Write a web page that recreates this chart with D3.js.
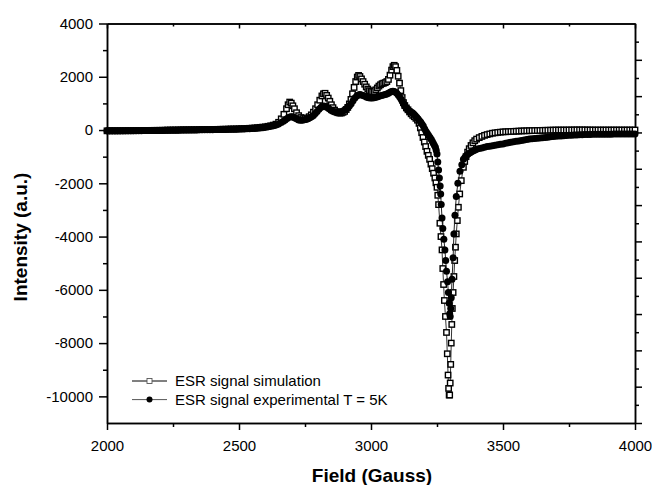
<!DOCTYPE html>
<html>
<head>
<meta charset="utf-8">
<script src="https://cdn.jsdelivr.net/npm/d3@7"></script>
<style>
	body { margin: 0; background: #fff; }
	svg text { font-family: "Liberation Sans", Arial, sans-serif; }
</style>
</head>
<body>
<div class="graph"></div>
<script>
// ESR spectra, [field (G), intensity (a.u.)]
const simulation = [
	[2000,-30],[2010,-30],[2020,-30],[2030,-30],[2040,-30],[2050,-28],[2060,-28],[2070,-26],[2080,-25],[2090,-25],
	[2100,-24],[2110,-22],[2120,-20],[2130,-19],[2140,-18],[2150,-16],[2160,-15],[2170,-13],[2180,-12],[2190,-11],
	[2200,-10],[2210,-8],[2220,-6],[2230,-3],[2240,0],[2250,1],[2260,2],[2270,4],[2280,5],[2290,7],
	[2300,8],[2310,9],[2320,10],[2330,11],[2340,12],[2350,14],[2360,15],[2370,17],[2380,18],[2390,19],
	[2400,20],[2410,22],[2420,25],[2430,28],[2440,30],[2450,32],[2460,35],[2470,38],[2480,40],[2490,42],
	[2500,45],[2510,50],[2520,55],[2530,60],[2540,65],[2550,72],[2560,80],[2570,90],[2580,100],[2590,110],
	[2600,120],[2610,140],[2620,160],[2630,185],[2640,220],[2650,290],[2660,420],[2670,590],[2680,800],[2686,950],
	[2692,1050],[2698,1010],[2704,910],[2710,800],[2718,650],[2726,540],[2734,470],[2742,430],[2750,435],[2758,455],
	[2766,500],[2774,570],[2782,670],[2790,800],[2798,950],[2806,1120],[2814,1280],[2820,1360],[2826,1380],[2832,1300],
	[2838,1200],[2844,1080],[2850,950],[2856,840],[2862,750],[2868,690],[2875,650],[2882,635],[2888,640],[2894,665],
	[2900,700],[2906,770],[2912,850],[2918,980],[2924,1150],[2930,1360],[2936,1600],[2942,1820],[2948,1990],[2953,2050],
	[2958,2010],[2964,1920],[2970,1820],[2976,1720],[2982,1620],[2988,1540],[2994,1480],[3000,1450],[3006,1440],[3012,1450],
	[3018,1510],[3024,1580],[3030,1650],[3036,1700],[3042,1740],[3048,1760],[3054,1780],[3060,1820],[3066,1900],[3072,2060],
	[3078,2250],[3083,2380],[3088,2430],[3093,2380],[3098,2240],[3103,2020],[3108,1760],[3113,1480],[3118,1220],[3123,1030],
	[3128,920],[3134,830],[3140,760],[3146,680],[3152,610],[3158,550],[3164,500],[3170,440],[3176,370],[3182,250],
	[3187,80],[3192,-100],[3197,-280],[3202,-450],[3207,-620],[3212,-800],[3217,-950],[3222,-1100],[3227,-1280],[3232,-1450],
	[3237,-1620],[3242,-1800],[3246,-1980],[3250,-2150],[3253,-2450],[3256,-2800],[3261,-3500],[3265,-4000],[3269,-4500],[3272,-5200],
	[3275,-5800],[3278,-6400],[3282,-7000],[3286,-7600],[3289,-8400],[3292,-9200],[3294,-9700],[3296,-9950],[3298,-9950],[3300,-9500],
	[3302,-8800],[3304,-8000],[3306,-7300],[3308,-6700],[3311,-6100],[3314,-5500],[3317,-4900],[3320,-4400],[3323,-3900],[3327,-3400],
	[3331,-2900],[3336,-2400],[3342,-1900],[3350,-1400],[3355,-1180],[3360,-1000],[3366,-830],[3372,-700],[3379,-580],[3386,-480],
	[3393,-400],[3400,-340],[3410,-285],[3420,-240],[3430,-200],[3440,-170],[3450,-145],[3460,-120],[3470,-105],[3480,-90],
	[3490,-80],[3500,-70],[3510,-65],[3520,-60],[3530,-55],[3540,-50],[3550,-45],[3560,-40],[3570,-35],[3580,-30],
	[3590,-28],[3600,-25],[3610,-22],[3620,-20],[3630,-17],[3640,-15],[3650,-12],[3660,-10],[3670,-8],[3680,-5],
	[3690,-3],[3700,0],[3710,0],[3720,0],[3730,0],[3740,0],[3750,2],[3760,2],[3770,4],[3780,5],
	[3790,5],[3800,5],[3810,4],[3820,3],[3830,2],[3840,0],[3850,0],[3860,0],[3870,0],[3880,0],
	[3890,0],[3900,0],[3910,0],[3920,0],[3930,0],[3940,0],[3950,0],[3960,0],[3970,0],[3980,0],[3990,0],[4000,0]
];

const experimental = [
	[2000,-30],[2010,-30],[2020,-30],[2030,-30],[2040,-30],[2050,-29],[2060,-28],[2070,-28],[2080,-27],[2090,-26],
	[2100,-25],[2110,-25],[2120,-24],[2130,-23],[2140,-22],[2150,-21],[2160,-20],[2170,-19],[2180,-18],[2190,-16],
	[2200,-15],[2210,-13],[2220,-12],[2230,-11],[2240,-10],[2250,-8],[2260,-6],[2270,-4],[2280,-3],[2290,-1],
	[2300,0],[2310,1],[2320,2],[2330,4],[2340,5],[2350,7],[2360,8],[2370,10],[2380,12],[2390,13],
	[2400,15],[2410,17],[2420,18],[2430,20],[2440,22],[2450,24],[2460,26],[2470,28],[2480,30],[2490,32],
	[2500,35],[2510,38],[2520,42],[2530,46],[2540,50],[2550,56],[2560,62],[2570,70],[2580,80],[2590,90],
	[2600,100],[2610,120],[2620,140],[2630,165],[2640,190],[2650,230],[2660,280],[2668,330],[2675,380],[2682,430],
	[2690,480],[2696,500],[2702,495],[2708,470],[2714,440],[2720,410],[2726,380],[2733,368],[2740,370],[2747,382],
	[2754,400],[2761,428],[2768,460],[2775,500],[2782,550],[2789,620],[2796,700],[2803,780],[2810,850],[2816,885],
	[2822,900],[2828,885],[2834,850],[2841,795],[2848,740],[2855,705],[2862,680],[2869,672],[2876,670],[2883,682],
	[2890,700],[2897,735],[2904,780],[2911,835],[2918,900],[2925,990],[2932,1100],[2939,1200],[2946,1280],[2952,1315],
	[2958,1330],[2964,1320],[2970,1300],[2977,1265],[2984,1230],[2991,1210],[2998,1200],[3005,1202],[3012,1210],[3019,1228],
	[3026,1250],[3033,1275],[3040,1300],[3047,1318],[3054,1330],[3060,1352],[3066,1380],[3072,1420],[3078,1450],[3083,1458],
	[3088,1450],[3093,1420],[3098,1380],[3103,1320],[3108,1250],[3113,1170],[3118,1080],[3123,990],[3128,900],[3133,835],
	[3138,780],[3143,735],[3148,700],[3153,670],[3158,640],[3163,595],[3168,540],[3173,480],[3178,420],[3183,360],
	[3188,300],[3193,225],[3198,150],[3203,50],[3208,-50],[3213,-125],[3218,-200],[3223,-275],[3228,-350],[3232,-425],
	[3236,-500],[3240,-575],[3244,-650],[3247,-760],[3250,-900],[3253,-1200],[3256,-1500],[3259,-1800],[3262,-2100],[3264,-2400],
	[3266,-2800],[3269,-3300],[3272,-3700],[3276,-4100],[3280,-4500],[3283,-4900],[3286,-5300],[3290,-5700],[3293,-6100],[3296,-6500],
	[3298,-6900],[3300,-7000],[3302,-6700],[3304,-6300],[3307,-5600],[3311,-4800],[3314,-3900],[3318,-3200],[3323,-2500],[3329,-2000],
	[3337,-1550],[3344,-1300],[3350,-1100],[3356,-1020],[3362,-950],[3368,-900],[3375,-850],[3381,-815],[3388,-780],[3394,-750],
	[3400,-720],[3410,-695],[3420,-670],[3430,-645],[3440,-620],[3450,-605],[3460,-590],[3470,-570],[3480,-550],[3490,-535],
	[3500,-520],[3510,-500],[3520,-480],[3530,-460],[3540,-440],[3550,-425],[3560,-410],[3570,-390],[3580,-370],[3590,-355],
	[3600,-340],[3610,-328],[3620,-315],[3630,-308],[3640,-300],[3650,-290],[3660,-280],[3670,-268],[3680,-255],[3690,-242],
	[3700,-230],[3710,-225],[3720,-220],[3730,-212],[3740,-205],[3750,-200],[3760,-195],[3770,-190],[3780,-185],[3790,-180],
	[3800,-175],[3810,-171],[3820,-168],[3830,-165],[3840,-162],[3850,-161],[3860,-160],[3870,-159],[3880,-158],[3890,-156],
	[3900,-155],[3910,-154],[3920,-152],[3930,-151],[3940,-150],[3950,-149],[3960,-148],[3970,-147],[3980,-146],[3990,-146],[4000,-145]
];

const xMajor = [2000, 2500, 3000, 3500, 4000];
const xMinor = [2250, 2750, 3250, 3750];
const yMajor = [-10000, -8000, -6000, -4000, -2000, 0, 2000, 4000];
const yMinor = [-9000, -7000, -5000, -3000, -1000, 1000, 3000];
// unlabeled right-hand axis has its own spacing
const rightMajor = [0, 1, 2, 3, 4, 5, 6, 7, 8, 9, 10];
const rightMinor = [0.5, 1.5, 2.5, 3.5, 4.5, 5.5, 6.5, 7.5, 8.5, 9.5, 10.5];

const legendLabels = ["ESR signal simulation", "ESR signal experimental T = 5K"];

const W = 652, H = 485;
const mLeft = 107, mRight = 635, mTop = 23.5, mBottom = 423;

const drawChart = function(){
	let svg = d3.select(".graph")
		.append("svg")
		.attr("width", W)
		.attr("height", H);

	let x = d3.scaleLinear().domain([2000, 4000]).range([mLeft, mRight]);
	let y = d3.scaleLinear().domain([-11000, 4000]).range([mBottom, mTop]);
	let yRight = d3.scaleLinear().domain([0, 11]).range([mBottom, mTop]);
	let plain = d => String(d);  // hyphen minus like the original

	// bottom axis
	svg.append("g")
		.attr("transform", "translate(0," + mBottom + ")")
		.call(d3.axisBottom(x).tickValues(xMajor).tickSize(7).tickPadding(10).tickSizeOuter(0).tickFormat(plain));
	svg.append("g")
		.attr("transform", "translate(0," + mBottom + ")")
		.call(d3.axisBottom(x).tickValues(xMinor).tickSize(4).tickSizeOuter(0).tickFormat(""));
	// top axis, ticks pointing in
	svg.append("g")
		.attr("transform", "translate(0," + mTop + ")")
		.call(d3.axisBottom(x).tickValues(xMajor).tickSize(5).tickSizeOuter(0).tickFormat(""));
	svg.append("g")
		.attr("transform", "translate(0," + mTop + ")")
		.call(d3.axisBottom(x).tickValues(xMinor).tickSize(3).tickSizeOuter(0).tickFormat(""));
	// left axis
	svg.append("g")
		.attr("transform", "translate(" + mLeft + ",0)")
		.call(d3.axisLeft(y).tickValues(yMajor).tickSize(8).tickPadding(6).tickSizeOuter(0).tickFormat(plain));
	svg.append("g")
		.attr("transform", "translate(" + mLeft + ",0)")
		.call(d3.axisLeft(y).tickValues(yMinor).tickSize(4).tickSizeOuter(0).tickFormat(""));
	// right axis
	svg.append("g")
		.attr("transform", "translate(" + mRight + ",0)")
		.call(d3.axisRight(yRight).tickValues(rightMajor).tickSize(7).tickSizeOuter(0).tickFormat(""));
	svg.append("g")
		.attr("transform", "translate(" + mRight + ",0)")
		.call(d3.axisRight(yRight).tickValues(rightMinor).tickSize(4).tickSizeOuter(0).tickFormat(""));

	svg.selectAll(".domain, .tick line").attr("stroke", "#000").attr("stroke-width", 1.5);
	svg.selectAll(".tick text").attr("font-size", "15px").attr("fill", "#000");

	// axis titles
	svg.append("text")
		.attr("x", (mLeft + mRight) / 2 + 1)
		.attr("y", 482)
		.attr("text-anchor", "middle")
		.attr("font-size", "19px")
		.attr("font-weight", "bold")
		.text("Field (Gauss)");
	svg.append("text")
		.attr("transform", "translate(27,237) rotate(-90)")
		.attr("text-anchor", "middle")
		.attr("font-size", "19px")
		.attr("font-weight", "bold")
		.text("Intensity (a.u.)");

	let line = d3.line()
		.x(d => x(d[0]))
		.y(d => y(d[1]));

	// simulation: hollow squares on a thin line
	svg.append("path")
		.attr("d", line(simulation))
		.attr("fill", "none")
		.attr("stroke", "#000")
		.attr("stroke-width", 0.8);
	svg.append("g").selectAll("rect")
		.data(simulation)
		.enter().append("rect")
		.attr("x", d => x(d[0]) - 2.7)
		.attr("y", d => y(d[1]) - 2.7)
		.attr("width", 5.4)
		.attr("height", 5.4)
		.attr("fill", "#fff")
		.attr("stroke", "#000")
		.attr("stroke-width", 1.4);

	// experimental: filled circles
	svg.append("path")
		.attr("d", line(experimental))
		.attr("fill", "none")
		.attr("stroke", "#222")
		.attr("stroke-width", 1);
	svg.append("g").selectAll("circle")
		.data(experimental)
		.enter().append("circle")
		.attr("cx", d => x(d[0]))
		.attr("cy", d => y(d[1]))
		.attr("r", 3.5)
		.attr("fill", "#000");

	// legend
	let legend = svg.append("g").attr("transform", "translate(132,381)");
	legendLabels.forEach(function(label, i){
		let row = legend.append("g").attr("transform", "translate(0," + (i * 18.6) + ")");
		row.append("line")
			.attr("x1", 0).attr("x2", 35)
			.attr("stroke", i == 0 ? "#000" : "#555")
			.attr("stroke-width", 1);
		if(i == 0){
			row.append("rect")
				.attr("x", 15).attr("y", -2.5)
				.attr("width", 5).attr("height", 5)
				.attr("fill", "#fff").attr("stroke", "#555").attr("stroke-width", 0.9);
		}else{
			row.append("circle")
				.attr("cx", 17.5).attr("r", 3)
				.attr("fill", "#000");
		}
		row.append("text")
			.attr("x", 43)
			.attr("y", 5.3)
			.attr("font-size", "15px")
			.text(label);
	});
}

drawChart();
</script>
</body>
</html>
